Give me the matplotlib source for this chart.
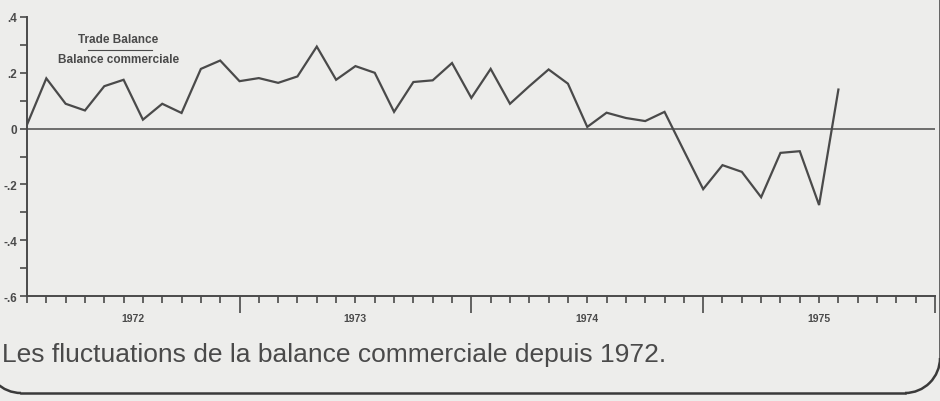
import numpy as np
import matplotlib
matplotlib.use("Agg")
import matplotlib.pyplot as plt
from matplotlib.lines import Line2D
from matplotlib.patches import Arc
from matplotlib.transforms import IdentityTransform

# month index, 0 = Jan 1972
months = np.arange(1, 44)
balance = [0.014, 0.180, 0.089, 0.065, 0.152, 0.175, 0.032, 0.089, 0.056, 0.214,
           0.244, 0.170, 0.181, 0.164, 0.187, 0.294, 0.175, 0.224, 0.200, 0.060,
           0.167, 0.173, 0.235, 0.110, 0.214, 0.089, 0.152, 0.212, 0.161, 0.006,
           0.057, 0.038, 0.027, 0.060, -0.079, -0.217, -0.131, -0.155, -0.246, -0.087,
           -0.081, -0.274, 0.140]

year_labels = ["1972", "1973", "1974", "1975"]
year_label_pos = [6.5, 18, 30, 42]
year_bounds = [12, 24, 36, 48]
y_ticks = [-0.6, -0.4, -0.2, 0, 0.2, 0.4]
y_ticklabels = ["-.6", "-.4", "-.2", "0", ".2", ".4"]

bg = "#ededeb"
ink = "#4a4a4a"
plt.rcParams['font.family'] = ['Liberation Sans', 'DejaVu Sans']

fig = plt.figure(figsize=(9.4, 4.02), dpi=100, facecolor=bg)
ax = fig.add_axes([27 / 940, 105 / 402, 908 / 940, 279 / 402])
ax.set_facecolor(bg)

ax.plot(months, balance, color=ink, lw=1.6, solid_joinstyle='miter', zorder=3)
ax.axhline(0, color=ink, lw=1.1, zorder=2)

ax.set_xlim(1, 48)
ax.set_ylim(-0.6, 0.4)
for s in ['top', 'right']:
    ax.spines[s].set_visible(False)
for s in ['left', 'bottom']:
    ax.spines[s].set_color(ink)
    ax.spines[s].set_linewidth(1.4)

ax.set_yticks(y_ticks)
ax.set_yticklabels(y_ticklabels, fontsize=8.5, fontweight='bold', color=ink)
ax.set_yticks(np.arange(-0.5, 0.4, 0.2), minor=True)
ax.tick_params(axis='y', which='both', direction='out', length=5, width=1.2,
               color=ink, pad=2)

ax.set_xticks(year_bounds)
ax.set_xticklabels([])
ax.set_xticks(np.arange(1, 49), minor=True)
ax.tick_params(axis='x', which='major', direction='out', length=12, width=1.2, color=ink)
ax.tick_params(axis='x', which='minor', direction='out', length=5, width=1.2, color=ink)

for lab, pos in zip(year_labels, year_label_pos):
    ax.annotate(lab, (pos, 0), xycoords=('data', 'axes fraction'),
                xytext=(0, -12), textcoords='offset points',
                ha='center', va='top', fontsize=7.5, fontweight='bold', color=ink)

# legend-like title
fig.text(118 / 940, 1 - 40 / 402, "Trade Balance", ha='center', va='center',
         fontsize=8.5, fontweight='bold', color=ink)
fig.text(119 / 940, 1 - 60 / 402, "Balance commerciale", ha='center', va='center',
         fontsize=8.5, fontweight='bold', color=ink)
fig.add_artist(Line2D([88 / 940, 152 / 940], [1 - 51 / 402, 1 - 51 / 402],
                      transform=fig.transFigure, color=ink, lw=0.8))

fig.text(0.002, 1 - 355 / 402, "Les fluctuations de la balance commerciale depuis 1972.",
         ha='left', va='center', fontsize=19, color=ink)

# rounded frame at the bottom of the page (pixel coordinates)
frame_kw = dict(transform=IdentityTransform(), color="#3a3a3a", lw=1.8)
r = 35
fig.add_artist(Arc((21, 8 + r), 2 * r, 2 * r, theta1=180, theta2=270, **frame_kw))
fig.add_artist(Line2D([21, 905], [8, 8], **frame_kw))
fig.add_artist(Arc((905, 8 + r), 2 * r, 2 * r, theta1=270, theta2=360, **frame_kw))
fig.add_artist(Line2D([940, 940], [8 + r, 402], **frame_kw))

fig.savefig("out.png", dpi=100, facecolor=bg)
